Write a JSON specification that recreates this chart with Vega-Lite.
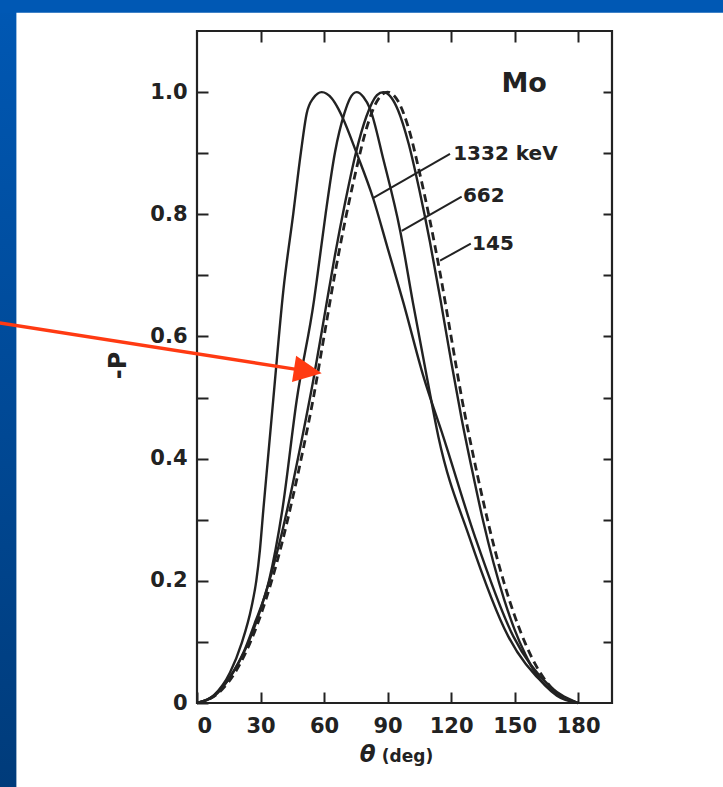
{
  "$schema": "https://vega.github.io/schema/vega-lite/v6.json",
  "width": 415,
  "height": 672,
  "autosize": {"type": "none"},
  "padding": {"left": 197, "top": 31, "right": 111, "bottom": 84},
  "background": "white",
  "config": {
    "view": {"stroke": "#222222", "strokeWidth": 2.2},
    "axis": {
      "domain": false,
      "grid": false,
      "labelFont": "DejaVu Sans",
      "labelFontWeight": "bold",
      "labelFontSize": 21,
      "labelColor": "#222222",
      "tickColor": "#222222",
      "tickWidth": 2,
      "titleFont": "DejaVu Sans",
      "titleFontWeight": "bold",
      "titleFontSize": 24,
      "titleColor": "#222222"
    }
  },
  "datasets": {
    "curves": [
      {"s": "1332", "t": 0, "p": 0},
      {"s": "1332", "t": 8, "p": 0.013},
      {"s": "1332", "t": 15.6, "p": 0.05},
      {"s": "1332", "t": 21.1, "p": 0.098},
      {"s": "1332", "t": 25.8, "p": 0.158},
      {"s": "1332", "t": 28.0, "p": 0.2},
      {"s": "1332", "t": 29.7, "p": 0.25},
      {"s": "1332", "t": 31.3, "p": 0.315},
      {"s": "1332", "t": 33.5, "p": 0.4},
      {"s": "1332", "t": 36.0, "p": 0.496},
      {"s": "1332", "t": 40.8, "p": 0.676},
      {"s": "1332", "t": 45.5, "p": 0.802},
      {"s": "1332", "t": 49.1, "p": 0.902},
      {"s": "1332", "t": 51.8, "p": 0.965},
      {"s": "1332", "t": 54.9, "p": 0.99},
      {"s": "1332", "t": 58.9, "p": 1.0},
      {"s": "1332", "t": 63.6, "p": 0.99},
      {"s": "1332", "t": 66.7, "p": 0.973},
      {"s": "1332", "t": 68.8, "p": 0.958},
      {"s": "1332", "t": 75.4, "p": 0.9},
      {"s": "1332", "t": 83.3, "p": 0.825},
      {"s": "1332", "t": 90.0, "p": 0.745},
      {"s": "1332", "t": 97.5, "p": 0.655},
      {"s": "1332", "t": 106.9, "p": 0.535},
      {"s": "1332", "t": 116.3, "p": 0.436},
      {"s": "1332", "t": 131.3, "p": 0.272},
      {"s": "1332", "t": 149.4, "p": 0.109},
      {"s": "1332", "t": 166.7, "p": 0.027},
      {"s": "1332", "t": 180, "p": 0},
      {"s": "662", "t": 0, "p": 0},
      {"s": "662", "t": 8, "p": 0.011},
      {"s": "662", "t": 16, "p": 0.045},
      {"s": "662", "t": 22, "p": 0.083},
      {"s": "662", "t": 27, "p": 0.128},
      {"s": "662", "t": 34.0, "p": 0.2},
      {"s": "662", "t": 40.3, "p": 0.316},
      {"s": "662", "t": 47.1, "p": 0.496},
      {"s": "662", "t": 55.3, "p": 0.66},
      {"s": "662", "t": 57.0, "p": 0.703},
      {"s": "662", "t": 60.8, "p": 0.802},
      {"s": "662", "t": 65.2, "p": 0.902},
      {"s": "662", "t": 69.6, "p": 0.965},
      {"s": "662", "t": 72.3, "p": 0.99},
      {"s": "662", "t": 75.4, "p": 1.0},
      {"s": "662", "t": 78.6, "p": 0.992},
      {"s": "662", "t": 81.7, "p": 0.973},
      {"s": "662", "t": 88, "p": 0.89},
      {"s": "662", "t": 95.9, "p": 0.774},
      {"s": "662", "t": 102, "p": 0.655},
      {"s": "662", "t": 108.8, "p": 0.529},
      {"s": "662", "t": 114.0, "p": 0.436},
      {"s": "662", "t": 128.6, "p": 0.272},
      {"s": "662", "t": 147.0, "p": 0.109},
      {"s": "662", "t": 165.2, "p": 0.027},
      {"s": "662", "t": 180, "p": 0},
      {"s": "145", "t": 0, "p": 0},
      {"s": "145", "t": 10, "p": 0.018},
      {"s": "145", "t": 20, "p": 0.068},
      {"s": "145", "t": 25, "p": 0.105},
      {"s": "145", "t": 30, "p": 0.153},
      {"s": "145", "t": 35, "p": 0.21},
      {"s": "145", "t": 40, "p": 0.277},
      {"s": "145", "t": 45, "p": 0.355},
      {"s": "145", "t": 50, "p": 0.44},
      {"s": "145", "t": 55, "p": 0.53},
      {"s": "145", "t": 60, "p": 0.63},
      {"s": "145", "t": 65, "p": 0.73},
      {"s": "145", "t": 70, "p": 0.82},
      {"s": "145", "t": 75, "p": 0.9},
      {"s": "145", "t": 80, "p": 0.96},
      {"s": "145", "t": 85, "p": 0.995},
      {"s": "145", "t": 88, "p": 1.0},
      {"s": "145", "t": 92, "p": 0.99},
      {"s": "145", "t": 95, "p": 0.97},
      {"s": "145", "t": 100, "p": 0.915},
      {"s": "145", "t": 105, "p": 0.84},
      {"s": "145", "t": 110, "p": 0.755},
      {"s": "145", "t": 115, "p": 0.66},
      {"s": "145", "t": 120, "p": 0.56},
      {"s": "145", "t": 125, "p": 0.465},
      {"s": "145", "t": 130, "p": 0.38},
      {"s": "145", "t": 135, "p": 0.3},
      {"s": "145", "t": 140, "p": 0.23},
      {"s": "145", "t": 145, "p": 0.17},
      {"s": "145", "t": 150, "p": 0.12},
      {"s": "145", "t": 155, "p": 0.08},
      {"s": "145", "t": 160, "p": 0.048},
      {"s": "145", "t": 170, "p": 0.012},
      {"s": "145", "t": 180, "p": 0},
      {"s": "thomson", "t": 0, "p": 0},
      {"s": "thomson", "t": 10, "p": 0.016},
      {"s": "thomson", "t": 20, "p": 0.062},
      {"s": "thomson", "t": 25, "p": 0.098},
      {"s": "thomson", "t": 30, "p": 0.143},
      {"s": "thomson", "t": 35, "p": 0.197},
      {"s": "thomson", "t": 40, "p": 0.26},
      {"s": "thomson", "t": 45, "p": 0.333},
      {"s": "thomson", "t": 50, "p": 0.413},
      {"s": "thomson", "t": 55, "p": 0.5},
      {"s": "thomson", "t": 60, "p": 0.6},
      {"s": "thomson", "t": 65, "p": 0.7},
      {"s": "thomson", "t": 70, "p": 0.79},
      {"s": "thomson", "t": 75, "p": 0.87},
      {"s": "thomson", "t": 80, "p": 0.94},
      {"s": "thomson", "t": 85, "p": 0.985},
      {"s": "thomson", "t": 90, "p": 1.0},
      {"s": "thomson", "t": 95, "p": 0.985},
      {"s": "thomson", "t": 100, "p": 0.94},
      {"s": "thomson", "t": 105, "p": 0.87},
      {"s": "thomson", "t": 110, "p": 0.79},
      {"s": "thomson", "t": 115, "p": 0.7},
      {"s": "thomson", "t": 120, "p": 0.6},
      {"s": "thomson", "t": 125, "p": 0.5},
      {"s": "thomson", "t": 130, "p": 0.413},
      {"s": "thomson", "t": 135, "p": 0.333},
      {"s": "thomson", "t": 140, "p": 0.26},
      {"s": "thomson", "t": 145, "p": 0.197},
      {"s": "thomson", "t": 150, "p": 0.143},
      {"s": "thomson", "t": 155, "p": 0.098},
      {"s": "thomson", "t": 160, "p": 0.062},
      {"s": "thomson", "t": 170, "p": 0.016},
      {"s": "thomson", "t": 180, "p": 0}
    ]
  },
  "resolve": {"axis": {"x": "independent", "y": "independent"}},
  "layer": [
    {
      "description": "slide frame: left stripe",
      "data": {"values": [{}]},
      "mark": {
        "type": "rect",
        "clip": false,
        "color": {
          "gradient": "linear", "x1": 0, "y1": 0, "x2": 0, "y2": 1,
          "stops": [{"offset": 0, "color": "#0058b4"}, {"offset": 1, "color": "#003b7a"}]
        }
      },
      "encoding": {
        "x": {"datum": -94, "type": "quantitative", "scale": {"domain": [0, 196], "nice": false, "zero": false}, "axis": null},
        "x2": {"datum": -85.3},
        "y": {"datum": 1.16, "type": "quantitative", "scale": {"domain": [0, 1.1], "nice": false, "zero": false}, "axis": null},
        "y2": {"datum": -0.15}
      }
    },
    {
      "description": "slide frame: top band",
      "data": {"values": [{}]},
      "mark": {"type": "rect", "clip": false, "color": "#0058b4"},
      "encoding": {
        "x": {"datum": -94, "type": "quantitative", "scale": {"domain": [0, 196], "nice": false, "zero": false}, "axis": null},
        "x2": {"datum": 250},
        "y": {"datum": 1.16, "type": "quantitative", "scale": {"domain": [0, 1.1], "nice": false, "zero": false}, "axis": null},
        "y2": {"datum": 1.13}
      }
    },
    {
      "data": {"name": "curves"},
      "transform": [{"filter": "datum.s === '1332'"}],
      "mark": {"type": "line", "interpolate": "monotone", "stroke": "#222222", "strokeWidth": 2.4},
      "encoding": {
        "x": {
          "field": "t", "type": "quantitative",
          "scale": {"domain": [0, 196], "nice": false, "zero": false},
          "axis": {"orient": "bottom", "values": [0, 30, 60, 90, 120, 150, 180], "tickSize": -11, "labelPadding": 23, "title": null}
        },
        "y": {
          "field": "p", "type": "quantitative",
          "scale": {"domain": [0, 1.1], "nice": false, "zero": false},
          "axis": {
            "orient": "left",
            "values": [0, 0.1, 0.2, 0.3, 0.4, 0.5, 0.6, 0.7, 0.8, 0.9, 1.0],
            "tickSize": -11,
            "labelPadding": 21,
            "labelExpr": "round(datum.value * 10) % 2 === 0 ? (datum.value === 0 ? '0' : format(datum.value, '.1f')) : ''",
            "title": "-P",
            "titleX": -79,
            "titleY": 334,
            "titleAngle": -90,
            "titleAlign": "center",
            "titleBaseline": "middle"
          }
        }
      }
    },
    {
      "data": {"name": "curves"},
      "transform": [{"filter": "datum.s === '662'"}],
      "mark": {"type": "line", "interpolate": "monotone", "stroke": "#222222", "strokeWidth": 2.4},
      "encoding": {
        "x": {
          "field": "t", "type": "quantitative",
          "scale": {"domain": [0, 196], "nice": false, "zero": false},
          "axis": {"orient": "top", "values": [30, 60, 90, 120, 150, 180], "tickSize": -11, "labels": false, "title": null}
        },
        "y": {
          "field": "p", "type": "quantitative",
          "scale": {"domain": [0, 1.1], "nice": false, "zero": false},
          "axis": {"orient": "right", "values": [0.1, 0.2, 0.3, 0.4, 0.5, 0.6, 0.7, 0.8, 0.9, 1.0], "tickSize": -9, "labels": false, "title": null}
        }
      }
    },
    {
      "data": {"name": "curves"},
      "transform": [{"filter": "datum.s === '145'"}],
      "mark": {"type": "line", "interpolate": "monotone", "stroke": "#222222", "strokeWidth": 2.4},
      "encoding": {
        "x": {"field": "t", "type": "quantitative", "scale": {"domain": [0, 196], "nice": false, "zero": false}, "axis": null},
        "y": {"field": "p", "type": "quantitative", "scale": {"domain": [0, 1.1], "nice": false, "zero": false}, "axis": null}
      }
    },
    {
      "data": {"name": "curves"},
      "transform": [{"filter": "datum.s === 'thomson'"}],
      "mark": {"type": "line", "interpolate": "monotone", "stroke": "#222222", "strokeWidth": 2.8, "strokeDash": [8, 5]},
      "encoding": {
        "x": {"field": "t", "type": "quantitative", "scale": {"domain": [0, 196], "nice": false, "zero": false}, "axis": null},
        "y": {"field": "p", "type": "quantitative", "scale": {"domain": [0, 1.1], "nice": false, "zero": false}, "axis": null}
      }
    },
    {
      "description": "leader for 1332 keV",
      "data": {"values": [{}]},
      "mark": {"type": "rule", "stroke": "#222222", "strokeWidth": 2},
      "encoding": {
        "x": {"datum": 119.5, "type": "quantitative", "scale": {"domain": [0, 196], "nice": false, "zero": false}, "axis": null},
        "y": {"datum": 0.899, "type": "quantitative", "scale": {"domain": [0, 1.1], "nice": false, "zero": false}, "axis": null},
        "x2": {"datum": 83.3},
        "y2": {"datum": 0.827}
      }
    },
    {
      "description": "leader for 662",
      "data": {"values": [{}]},
      "mark": {"type": "rule", "stroke": "#222222", "strokeWidth": 2},
      "encoding": {
        "x": {"datum": 125.0, "type": "quantitative", "scale": {"domain": [0, 196], "nice": false, "zero": false}, "axis": null},
        "y": {"datum": 0.829, "type": "quantitative", "scale": {"domain": [0, 1.1], "nice": false, "zero": false}, "axis": null},
        "x2": {"datum": 96.7},
        "y2": {"datum": 0.773}
      }
    },
    {
      "description": "leader for 145",
      "data": {"values": [{}]},
      "mark": {"type": "rule", "stroke": "#222222", "strokeWidth": 2},
      "encoding": {
        "x": {"datum": 129.3, "type": "quantitative", "scale": {"domain": [0, 196], "nice": false, "zero": false}, "axis": null},
        "y": {"datum": 0.752, "type": "quantitative", "scale": {"domain": [0, 1.1], "nice": false, "zero": false}, "axis": null},
        "x2": {"datum": 114.8},
        "y2": {"datum": 0.724}
      }
    },
    {
      "data": {"values": [{}]},
      "mark": {"type": "text", "align": "left", "baseline": "middle", "font": "DejaVu Sans", "fontWeight": "bold", "fontSize": 20, "fill": "#222222"},
      "encoding": {
        "x": {"datum": 121, "type": "quantitative", "scale": {"domain": [0, 196], "nice": false, "zero": false}, "axis": null},
        "y": {"datum": 0.899, "type": "quantitative", "scale": {"domain": [0, 1.1], "nice": false, "zero": false}, "axis": null},
        "text": {"value": "1332 keV"}
      }
    },
    {
      "data": {"values": [{}]},
      "mark": {"type": "text", "align": "left", "baseline": "middle", "font": "DejaVu Sans", "fontWeight": "bold", "fontSize": 20, "fill": "#222222"},
      "encoding": {
        "x": {"datum": 125.6, "type": "quantitative", "scale": {"domain": [0, 196], "nice": false, "zero": false}, "axis": null},
        "y": {"datum": 0.83, "type": "quantitative", "scale": {"domain": [0, 1.1], "nice": false, "zero": false}, "axis": null},
        "text": {"value": "662"}
      }
    },
    {
      "data": {"values": [{}]},
      "mark": {"type": "text", "align": "left", "baseline": "middle", "font": "DejaVu Sans", "fontWeight": "bold", "fontSize": 20, "fill": "#222222"},
      "encoding": {
        "x": {"datum": 129.9, "type": "quantitative", "scale": {"domain": [0, 196], "nice": false, "zero": false}, "axis": null},
        "y": {"datum": 0.751, "type": "quantitative", "scale": {"domain": [0, 1.1], "nice": false, "zero": false}, "axis": null},
        "text": {"value": "145"}
      }
    },
    {
      "data": {"values": [{}]},
      "mark": {"type": "text", "align": "center", "baseline": "middle", "font": "DejaVu Sans", "fontWeight": "bold", "fontSize": 27, "fill": "#222222"},
      "encoding": {
        "x": {"datum": 154.5, "type": "quantitative", "scale": {"domain": [0, 196], "nice": false, "zero": false}, "axis": null},
        "y": {"datum": 1.013, "type": "quantitative", "scale": {"domain": [0, 1.1], "nice": false, "zero": false}, "axis": null},
        "text": {"value": "Mo"}
      }
    },
    {
      "description": "x axis title, theta symbol",
      "data": {"values": [{}]},
      "mark": {"type": "text", "align": "center", "baseline": "alphabetic", "font": "DejaVu Sans", "fontStyle": "italic", "fontWeight": "bold", "fontSize": 23, "fill": "#222222", "clip": false},
      "encoding": {
        "x": {"datum": 80.6, "type": "quantitative", "scale": {"domain": [0, 196], "nice": false, "zero": false}, "axis": null},
        "y": {"datum": -0.096, "type": "quantitative", "scale": {"domain": [0, 1.1], "nice": false, "zero": false}, "axis": null},
        "text": {"value": "θ"}
      }
    },
    {
      "description": "x axis title, unit",
      "data": {"values": [{}]},
      "mark": {"type": "text", "align": "center", "baseline": "alphabetic", "font": "DejaVu Sans", "fontWeight": "bold", "fontSize": 17, "fill": "#222222", "clip": false},
      "encoding": {
        "x": {"datum": 99.4, "type": "quantitative", "scale": {"domain": [0, 196], "nice": false, "zero": false}, "axis": null},
        "y": {"datum": -0.096, "type": "quantitative", "scale": {"domain": [0, 1.1], "nice": false, "zero": false}, "axis": null},
        "text": {"value": "(deg)"}
      }
    },
    {
      "description": "pointer arrow shaft",
      "data": {"values": [{}]},
      "mark": {"type": "rule", "stroke": "#ff3a12", "strokeWidth": 3.5, "clip": false},
      "encoding": {
        "x": {"datum": -93.1, "type": "quantitative", "scale": {"domain": [0, 196], "nice": false, "zero": false}, "axis": null},
        "y": {"datum": 0.622, "type": "quantitative", "scale": {"domain": [0, 1.1], "nice": false, "zero": false}, "axis": null},
        "x2": {"datum": 47.7},
        "y2": {"datum": 0.5457}
      }
    },
    {
      "description": "pointer arrow head",
      "data": {"values": [{}]},
      "mark": {"type": "point", "shape": "M0,0 L-2,-0.95 L-2,0.95 Z", "size": 784, "angle": 8.9, "filled": true, "color": "#ff3a12", "opacity": 1, "strokeWidth": 0},
      "encoding": {
        "x": {"datum": 58.9, "type": "quantitative", "scale": {"domain": [0, 196], "nice": false, "zero": false}, "axis": null},
        "y": {"datum": 0.5397, "type": "quantitative", "scale": {"domain": [0, 1.1], "nice": false, "zero": false}, "axis": null}
      }
    }
  ]
}
